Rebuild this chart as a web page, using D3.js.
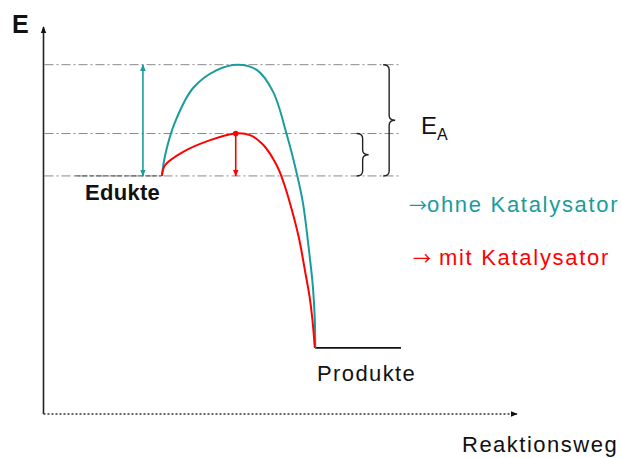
<!DOCTYPE html>
<html><head><meta charset="utf-8">
<script src="https://cdn.jsdelivr.net/npm/d3@7"></script>
<style>
html,body{margin:0;padding:0;background:#fff;}
text{font-family:"Liberation Sans",Arial,sans-serif;}
</style></head>
<body>
<svg id="c" width="621" height="458"></svg>
<script>
// ---- data (reaction coordinate 0..100, energy 0..100) ----
const tealX = [25.0, 25.7, 27.8, 31.6, 36.6, 41.1, 45.1, 48.5, 51.4, 53.7, 54.8, 56.3, 56.9, 57.3, 57.4];
const tealE = [61.2, 66.6, 75.1, 83.8, 88.4, 89.8, 88.4, 82.8, 71.7, 60.7, 54.2, 39.6, 32.6, 24.2, 17.0];
const redX  = [25.0, 25.7, 29.5, 35.2, 40.4, 43.6, 46.4, 49.3, 50.8, 52.1, 53.9, 55.2, 56.2, 56.8, 57.3];
const redE  = [61.2, 64.0, 67.4, 70.4, 72.1, 71.7, 69.2, 63.8, 59.2, 54.0, 45.5, 37.0, 30.1, 24.2, 17.0];
const levelNames = ["Edukte", "Produkte"];
const levelE = [61.2, 17.0];
const levelX0 = [6.7, 57.4];
const levelX1 = [25.0, 75.5];
const peakE = [89.8, 72.1];          // ohne / mit Katalysator
const peakX = [21.0, 40.6];          // arrow positions
const legendArrows = ["\u2192", "\u2192"];
const legendLabels = ["ohne Katalysator", "mit Katalysator"];
const axisLabels = ["E", "Reaktionsweg"];

const teal = "#1a9c9c", red = "#ff0000", grey = "#8a8a8a";
const svg = d3.select("#c");
const x = d3.scaleLinear().domain([0, 100]).range([43.5, 517]);
const y = d3.scaleLinear().domain([0, 100]).range([414, 25]);

const defs = svg.append("defs");
function marker(id, color, size) {
  defs.append("marker").attr("id", id).attr("viewBox", "0 0 10 10")
    .attr("refX", 9).attr("refY", 5).attr("markerWidth", size).attr("markerHeight", size)
    .attr("orient", "auto-start-reverse").attr("markerUnits", "userSpaceOnUse")
    .append("path").attr("d", "M0,1 L10,5 L0,9 Z").attr("fill", color);
}
marker("ak", "#111", 7); marker("at", teal, 7); marker("ar", red, 7);

// dash-dot reference lines
const refE = [peakE[0], peakE[1], levelE[0]];
svg.selectAll("line.ref").data(refE).join("line").attr("class", "ref")
  .attr("x1", x(0)+1).attr("x2", x(75.5)).attr("y1", d => y(d)).attr("y2", d => y(d))
  .attr("stroke", grey).attr("stroke-width", 1).attr("stroke-dasharray", "9,3,2,3");

// axes
svg.append("line").attr("x1", x(0)).attr("x2", x(0)).attr("y1", y(0)).attr("y2", y(99.5))
  .attr("stroke", "#222").attr("stroke-width", 1.6).attr("marker-end", "url(#ak)");
svg.append("line").attr("x1", x(0)).attr("x2", x(100)).attr("y1", y(0)).attr("y2", y(0))
  .attr("stroke", "#333").attr("stroke-width", 1.6).attr("stroke-dasharray", "2,2").attr("marker-end", "url(#ak)");

// levels
svg.append("line").attr("x1", x(levelX0[0])).attr("x2", x(levelX1[0]))
  .attr("y1", y(levelE[0])).attr("y2", y(levelE[0]))
  .attr("stroke", "#666").attr("stroke-width", 1.2).attr("stroke-dasharray", "5,2");
svg.append("line").attr("x1", x(levelX0[1])).attr("x2", x(levelX1[1]))
  .attr("y1", y(levelE[1])).attr("y2", y(levelE[1]))
  .attr("stroke", "#111").attr("stroke-width", 1.6);

// curves
const line = d3.line().x(d => x(d[0])).y(d => y(d[1])).curve(d3.curveCatmullRom.alpha(0.5));
svg.append("path").datum(d3.zip(tealX, tealE)).attr("d", line)
  .attr("fill", "none").attr("stroke", teal).attr("stroke-width", 2);
svg.append("path").datum(d3.zip(redX, redE)).attr("d", line)
  .attr("fill", "none").attr("stroke", red).attr("stroke-width", 2);

// activation-energy arrows
svg.append("line").attr("x1", x(peakX[0])).attr("x2", x(peakX[0]))
  .attr("y1", y(levelE[0])).attr("y2", y(peakE[0]))
  .attr("stroke", teal).attr("stroke-width", 1.6)
  .attr("marker-start", "url(#at)").attr("marker-end", "url(#at)");
svg.append("line").attr("x1", x(peakX[1])).attr("x2", x(peakX[1]))
  .attr("y1", y(peakE[1])).attr("y2", y(levelE[0]))
  .attr("stroke", red).attr("stroke-width", 1.6).attr("marker-end", "url(#ar)");
svg.append("circle").attr("cx", x(peakX[1])).attr("cy", y(peakE[1])).attr("r", 2.8).attr("fill", red);

// braces
function brace(xc, y1, y2, w) {
  const ym = (y1 + y2) / 2, r = 5;
  return `M${xc - w},${y1} Q${xc},${y1} ${xc},${y1 + r} L${xc},${ym - r} Q${xc},${ym} ${xc + w},${ym}` +
         ` Q${xc},${ym} ${xc},${ym + r} L${xc},${y2 - r} Q${xc},${y2} ${xc - w},${y2}`;
}
svg.append("path").attr("d", brace(x(73.0), y(peakE[0]), y(levelE[0]), 6))
  .attr("fill", "none").attr("stroke", "#222").attr("stroke-width", 1.4);
svg.append("path").attr("d", brace(x(67.4), y(peakE[1]), y(levelE[0]), 6))
  .attr("fill", "none").attr("stroke", "#222").attr("stroke-width", 1.4);

// texts
svg.append("text").attr("x", 12).attr("y", 33).text(axisLabels[0])
  .attr("font-size", 25).attr("font-weight", "bold").attr("fill", "#111");
svg.append("text").attr("x", 462).attr("y", 452).text(axisLabels[1])
  .attr("font-size", 22).attr("letter-spacing", 1.5).attr("fill", "#111");
svg.append("text").attr("x", 85).attr("y", 200).text(levelNames[0])
  .attr("font-size", 22).attr("font-weight", "bold").attr("letter-spacing", 0.3).attr("fill", "#111");
svg.append("text").attr("x", 317).attr("y", 381).text(levelNames[1])
  .attr("font-size", 22).attr("letter-spacing", 1.4).attr("fill", "#111");
const ea = svg.append("text").attr("x", 421).attr("y", 134).attr("fill", "#111");
ea.append("tspan").text("E").attr("font-size", 24);
ea.append("tspan").text("A").attr("font-size", 16).attr("dy", 6);

const legColors = [teal, red], legX = [409, 413], legY = [212, 265], legGap = [0, 8];
legendLabels.forEach((lab, i) => {
  const t = svg.append("text").attr("x", legX[i]).attr("y", legY[i]).attr("fill", legColors[i])
    .attr("font-size", 22);
  t.append("tspan").text(legendArrows[i]).attr("font-family", "Noto Sans CJK SC").attr("font-size", 18);
  t.append("tspan").text(lab).attr("letter-spacing", 1.7).attr("dx", legGap[i]);
});
</script>
</body></html>
